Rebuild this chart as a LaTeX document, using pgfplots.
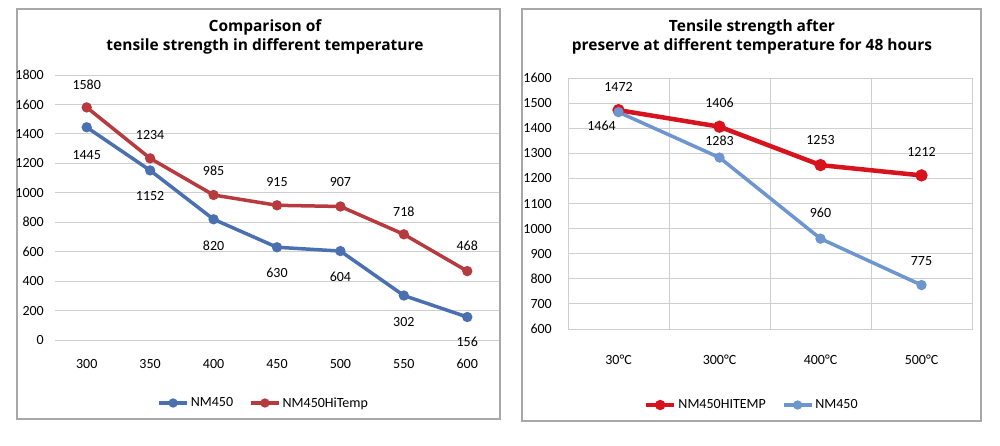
\documentclass[border=0pt]{standalone}
\usepackage{pgfplots}
\pgfplotsset{compat=1.18}
\usepackage{fontspec}
\setmainfont{Carlito}
\newfontfamily\titlefont{Open Sans}
\definecolor{lblue}{HTML}{4A70B0}
\definecolor{lred}{HTML}{B73A3E}
\definecolor{rred}{HTML}{D7141E}
\definecolor{rblue}{HTML}{6D96CF}
\definecolor{gridc}{HTML}{CFCFCF}
\definecolor{framec}{HTML}{A8A8A8}

\pgfplotsset{
  lbl/.style={
    nodes near coords,
    point meta=explicit symbolic,
    visualization depends on={\thisrow{dx}\as\dx},
    visualization depends on={\thisrow{dy}\as\dy},
    every node near coord/.append style={anchor=center, inner sep=0pt,
      xshift=\dx pt, yshift=\dy pt, text=black, font=\fontsize{14}{16}\selectfont},
  },
  common/.style={
    scale only axis,
    font=\fontsize{14}{16}\selectfont,
    tick label style={font=\fontsize{14}{16}\selectfont},
    /pgf/number format/assume math mode=true,
    /pgf/number format/1000 sep={},
    major tick length=0pt, minor tick length=0pt,
    yticklabel style={anchor=east, inner sep=0pt},
    xticklabel style={anchor=center, inner sep=0pt},
    legend style={draw=none, fill=none, legend columns=2,
      font=\fontsize{14}{16}\selectfont,
      /tikz/every even column/.append style={column sep=14pt}},
    legend cell align=left,
    legend image code/.code={
      \draw[#1, mark repeat=2, mark phase=2, mark size=2.8pt] plot coordinates {(0pt,0pt) (14pt,0pt) (28pt,0pt)};
    },
  },
}

\begin{document}
\begin{tikzpicture}
\path[use as bounding box, fill=white] (0,0) rectangle (1000pt,-445pt);
\draw[framec, line width=1.3pt] (17pt,-9pt) rectangle (500pt,-419pt);
\draw[framec, line width=1.3pt] (522pt,-9pt) rectangle (981pt,-421pt);

% left chart
\node[font=\titlefont\bfseries\fontsize{15.5}{19}\selectfont, align=center] at (265pt,-37pt)
  {Comparison of\\tensile strength in different temperature};
\begin{axis}[common,
  at={(55pt,-340pt)}, anchor=south west,
  width=444pt, height=265pt,
  xmin=-0.5, xmax=6.5, ymin=0, ymax=1800,
  ytick={0,200,...,1800},
  xtick={0,...,6}, xticklabels={300,350,400,450,500,550,600},
  xticklabel style={yshift=-24pt},
  yticklabel style={xshift=-11pt},
  ymajorgrids, grid style={gridc, line width=0.9pt},
  axis line style={draw=none},
  legend style={at={(0.47,-63pt)}, anchor=center},
]
\addplot[lblue, line width=3.5pt, mark=*, mark size=3.3pt, lbl] table[meta=v] {
x y v dx dy
0 1445 1445 0 -28
1 1152 1152 0 -26
2 820 820 0 -26
3 630 630 0 -26
4 604 604 0 -26
5 302 302 0 -26
6 156 156 0 -25
};
\addlegendentry{NM450}
\addplot[lred, line width=3.5pt, mark=*, mark size=3.3pt, lbl] table[meta=v] {
x y v dx dy
0 1580 1580 0 23
1 1234 1234 0 23
2 985 985 0 24
3 915 915 0 23
4 907 907 0 24
5 718 718 0 23
6 468 468 0 25
};
\addlegendentry{NM450HiTemp}
\end{axis}

% right chart
\node[font=\titlefont\bfseries\fontsize{15.5}{19}\selectfont, align=center] at (752pt,-37pt)
  {Tensile strength after\\preserve at different temperature for 48 hours};
\begin{axis}[common,
  at={(568pt,-329pt)}, anchor=south west,
  width=404pt, height=251pt,
  xmin=-0.5, xmax=3.5, ymin=600, ymax=1600,
  ytick={600,700,...,1600},
  xtick={0,...,3}, xticklabels={30°C,300°C,400°C,500°C},
  minor xtick={0.5,1.5,2.5},
  xticklabel style={yshift=-31pt},
  yticklabel style={xshift=-16pt},
  ymajorgrids, xminorgrids, grid style={gridc, line width=0.9pt},
  axis line style={gridc, line width=0.9pt},
  legend style={at={(0.455,-76pt)}, anchor=center},
]
\addplot[rred, line width=4.5pt, mark=*, mark size=3.8pt, lbl] table[meta=v] {
x y v dx dy
0 1472 1472 0 23
1 1406 1406 0 24
2 1253 1253 0 25
3 1212 1212 0 23
};
\addlegendentry{NM450HITEMP}
\addplot[rblue, line width=3.5pt, mark=*, mark size=3.3pt, lbl] table[meta=v] {
x y v dx dy
0 1464 1464 -17 -14
1 1283 1283 0 17
2 960 960 0 26
3 775 775 0 24
};
\addlegendentry{NM450}
\end{axis}
\end{tikzpicture}
\end{document}
